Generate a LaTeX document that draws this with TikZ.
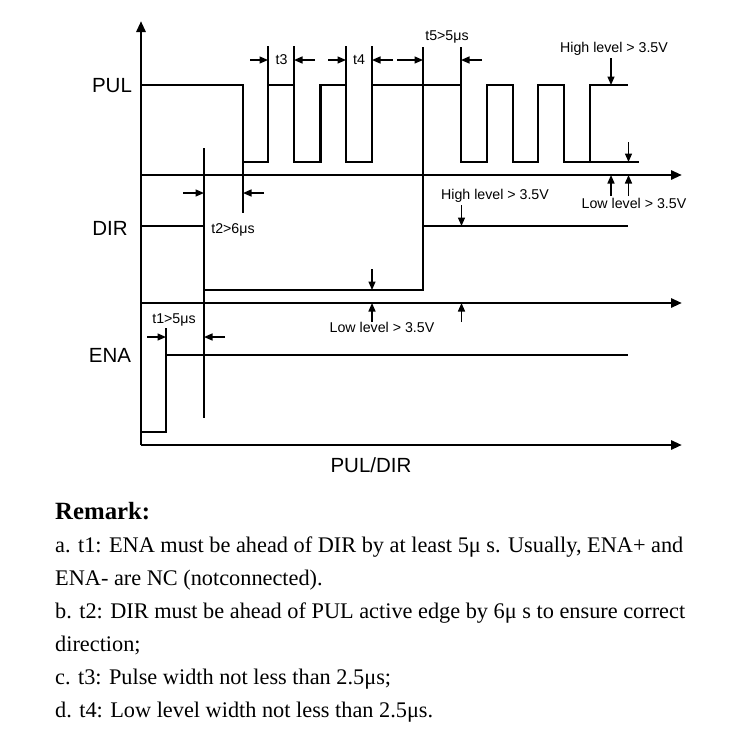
\documentclass[tikz,border=0pt]{standalone}
\usepackage{fontspec}
\setmainfont{Liberation Serif}
\newfontfamily\arialf{Liberation Sans}
\usetikzlibrary{arrows.meta}
\begin{document}
\begin{tikzpicture}[x=1pt,y=-1pt,
  sig/.style={line width=2.8pt},
  axisline/.style={line width=2.8pt,-{Triangle[length=11pt,width=9pt]}},
  guide/.style={line width=1.4pt},
  dimarrow/.style={line width=1.4pt,-{Triangle[length=8.5pt,width=7pt]}},
  lbl/.style={font=\arialf\fontsize{14.2}{17}\selectfont, inner sep=0pt},
  biglbl/.style={font=\arialf\fontsize{20.5}{24}\selectfont, inner sep=0pt},
  rem/.style={font=\fontsize{22.3}{26}\selectfont, anchor=base west, inner sep=0pt}]
\useasboundingbox (0,0) rectangle (748,732);

% axes
\coordinate (o) at (141,445);
\coordinate (ytop) at (141,21);
\coordinate (xend) at (682,445);
\coordinate (pa0) at (141,175);
\coordinate (pa1) at (682,175);
\coordinate (da0) at (141,303);
\coordinate (da1) at (682,303);
\draw[axisline] (o) -- (ytop);
\draw[axisline] (o) -- (xend);
\draw[axisline] (pa0) -- (pa1);
\draw[axisline] (da0) -- (da1);

% PUL signal
\draw[sig] (141,85) -- (243,85) -- (243,162) -- (268,162) -- (268,85) -- (294,85) -- (294,162)
  -- (320.5,162) -- (320.5,85) -- (346,85) -- (346,162) -- (372,162) -- (372,85) -- (461,85)
  -- (461,162) -- (487,162) -- (487,85) -- (513,85) -- (513,162) -- (538,162) -- (538,85)
  -- (564,85) -- (564,162) -- (590,162) -- (590,85) -- (628,85);
\draw[guide] (590,162) -- (639,162);

% guide lines top
\draw[guide] (268,46) -- (268,85);
\draw[guide] (294,46) -- (294,85);
\draw[guide] (346,46) -- (346,85);
\draw[guide] (372,46) -- (372,85);
\draw[guide] (461,47) -- (461,85);
\draw[guide] (423,47) -- (423,226);

% t3 t4 t5 arrows
\draw[dimarrow] (250,60) -- (268,60);
\draw[dimarrow] (315,60) -- (294,60);
\draw[dimarrow] (328,60) -- (346,60);
\draw[dimarrow] (393,60) -- (372,60);
\draw[dimarrow] (397,60) -- (423,60);
\draw[dimarrow] (482,60) -- (461,60);
\node[lbl] (t3) at (281.5,60) {t3};
\node[lbl] (t4) at (359,60) {t4};
\node[lbl] (t5) at (447,37) {t5>5μs};

% PUL level arrows
\draw[dimarrow] (611,58) -- (611,85);
\node[lbl] (hl1) at (614,49) {High level > 3.5V};
\draw[dimarrow] (628.5,142) -- (628.5,162);
\draw[dimarrow] (611,196) -- (611,175);
\draw[dimarrow] (628.5,196) -- (628.5,175);
\node[lbl] (ll1) at (634,203.5) {Low level > 3.5V};

% DIR signal
\draw[sig] (141,226) -- (204,226) -- (204,290) -- (423,290) -- (423,226) -- (628,226);
\draw[guide] (204,148) -- (204,418);
\draw[guide] (243,162) -- (243,213);
\draw[dimarrow] (183,193) -- (204,193);
\draw[dimarrow] (264,193) -- (243,193);
\node[lbl] (t2) at (233,230) {t2>6μs};
\draw[dimarrow] (461.5,205) -- (461.5,226);
\node[lbl] (hl2) at (495,196) {High level > 3.5V};
\draw[dimarrow] (372,269) -- (372,290);
\draw[dimarrow] (372,322) -- (372,303);
\draw[dimarrow] (461.5,322) -- (461.5,303);
\node[lbl] (ll2) at (382,327) {Low level > 3.5V};

% ENA signal
\draw[sig] (141,432) -- (166,432) -- (166,355) -- (628,355);
\draw[guide] (166,328) -- (166,355);
\draw[dimarrow] (147,337) -- (166,337);
\draw[dimarrow] (225,337) -- (204,337);
\node[lbl] (t1) at (174,320) {t1>5μs};

% big labels
\node[biglbl] (pul) at (112,86) {PUL};
\node[biglbl] (dir) at (110,228) {DIR};
\node[biglbl] (ena) at (110,355) {ENA};
\node[biglbl] (puldir) at (371,465) {PUL/DIR};

% remarks
\node[rem, font=\bfseries\fontsize{24.8}{28}\selectfont] (r0) at (55,519) {Remark:};
\node[rem] (r1) at (55,552) {a. t1: ENA must be ahead of DIR by at least 5μ s. Usually, ENA+ and};
\node[rem] (r2) at (55,585) {ENA- are NC (notconnected).};
\node[rem] (r3) at (55,618) {b. t2: DIR must be ahead of PUL active edge by 6μ s to ensure correct};
\node[rem] (r4) at (55,651) {direction;};
\node[rem] (r5) at (55,684) {c. t3: Pulse width not less than 2.5μs;};
\node[rem] (r6) at (55,717) {d. t4: Low level width not less than 2.5μs.};
\end{tikzpicture}
\end{document}
